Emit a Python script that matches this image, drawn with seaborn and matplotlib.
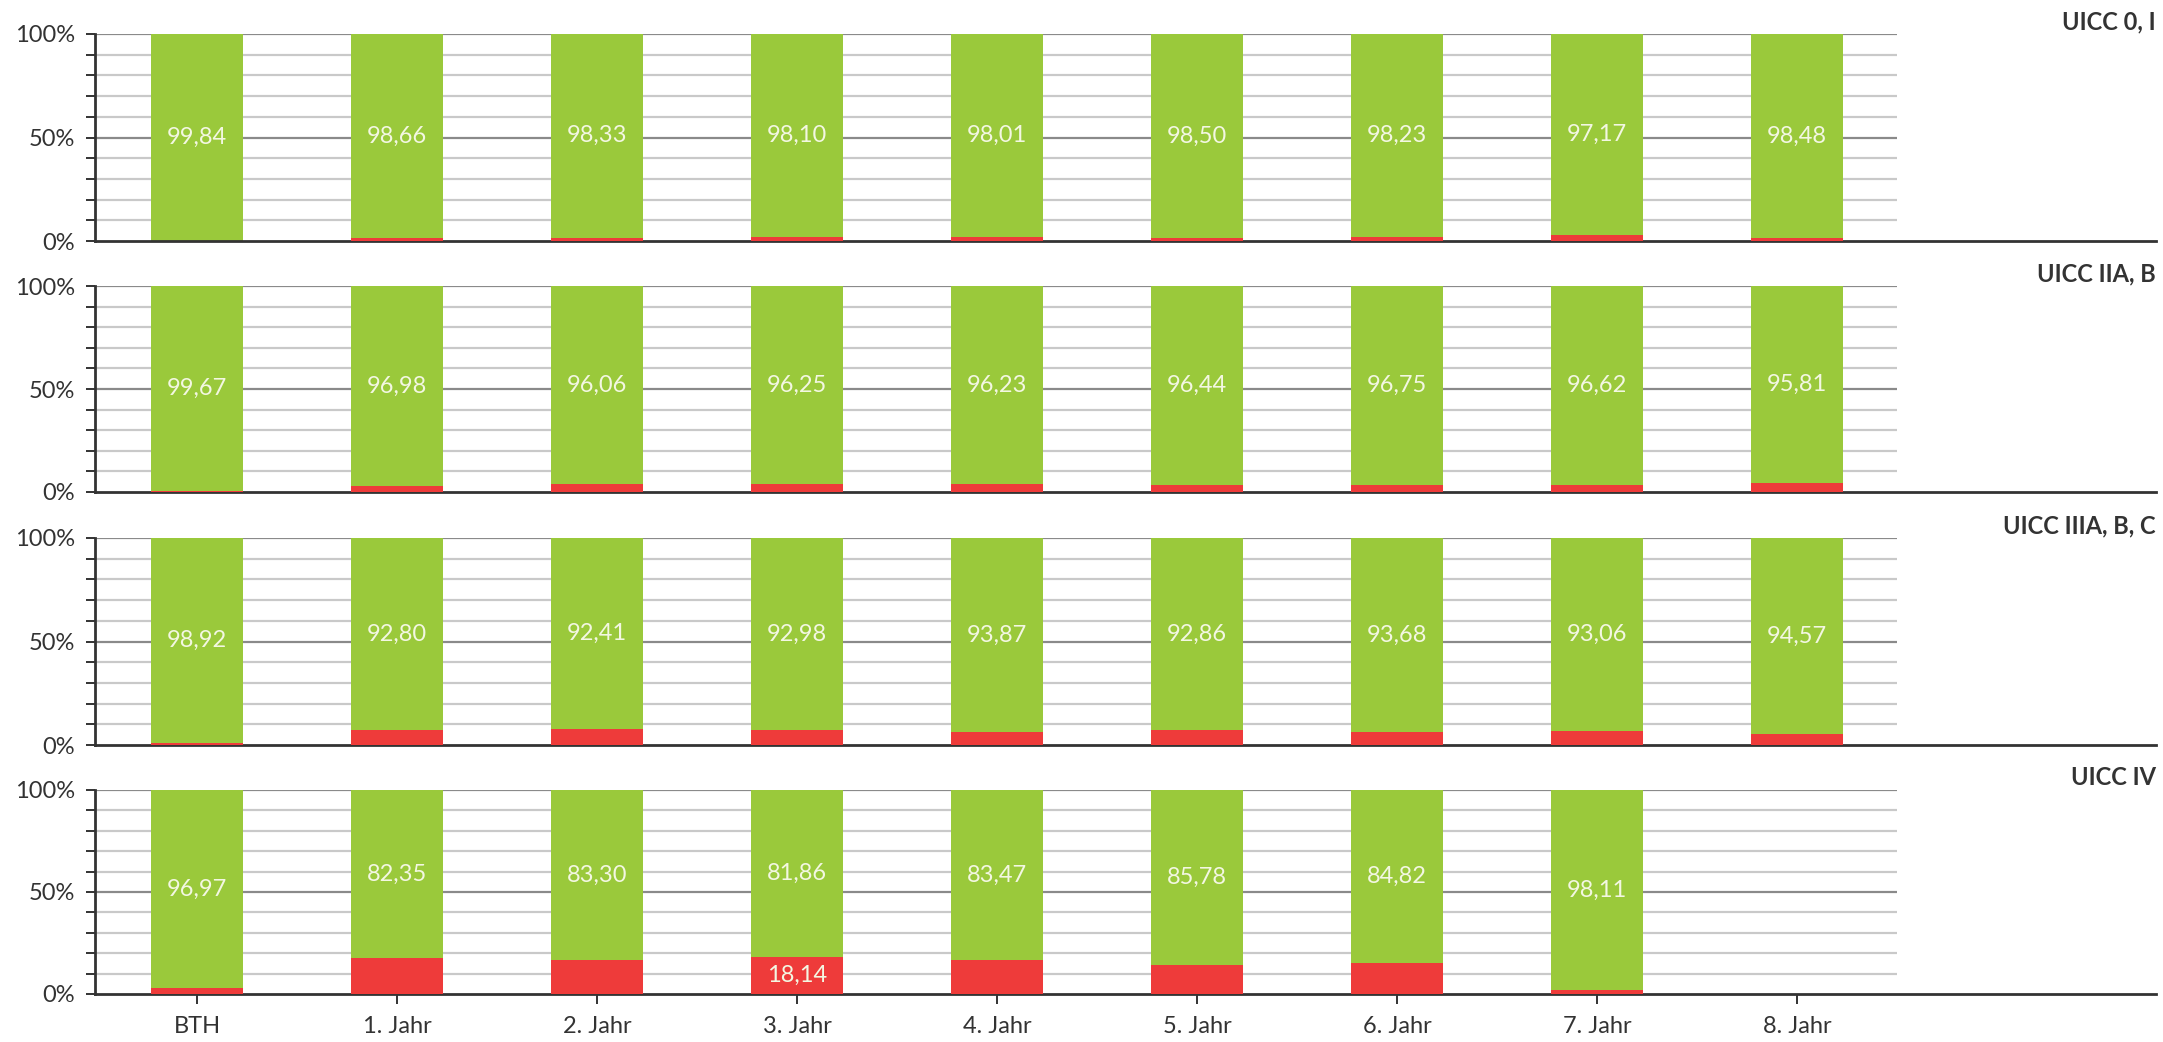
import matplotlib
matplotlib.use("Agg")
import matplotlib.pyplot as plt
import seaborn as sns
import numpy as np
import pandas as pd

categories = ["BTH", "1. Jahr", "2. Jahr", "3. Jahr", "4. Jahr", "5. Jahr", "6. Jahr", "7. Jahr", "8. Jahr"]
panel_titles = ["UICC 0, I", "UICC IIA, B", "UICC IIIA, B, C", "UICC IV"]

green_0_I = [99.84, 98.66, 98.33, 98.10, 98.01, 98.50, 98.23, 97.17, 98.48]
red_0_I = [0.16, 1.34, 1.67, 1.90, 1.99, 1.50, 1.77, 2.83, 1.52]

green_II = [99.67, 96.98, 96.06, 96.25, 96.23, 96.44, 96.75, 96.62, 95.81]
red_II = [0.33, 3.02, 3.94, 3.75, 3.77, 3.56, 3.25, 3.38, 4.19]

green_III = [98.92, 92.80, 92.41, 92.98, 93.87, 92.86, 93.68, 93.06, 94.57]
red_III = [1.08, 7.20, 7.59, 7.02, 6.13, 7.14, 6.32, 6.94, 5.43]

green_IV = [96.97, 82.35, 83.30, 81.86, 83.47, 85.78, 84.82, 98.11, np.nan]
red_IV = [3.03, 17.65, 16.70, 18.14, 16.53, 14.22, 15.18, 1.89, np.nan]

# which red segments carry a value label (panel index, category index)
red_labels_shown = [(3, 3)]

yticks_major = [0, 50, 100]
yticks_minor = [10, 20, 30, 40, 60, 70, 80, 90]
ytick_labels = ["0%", "50%", "100%"]

greens = [green_0_I, green_II, green_III, green_IV]
reds = [red_0_I, red_II, red_III, red_IV]

GREEN = "#9AC93B"
RED = "#EE3B3A"
TEXT_IN_BAR = "#F3F7E2"
DARK = "#333333"

sns.set_theme(style="white")
plt.rcParams["font.family"] = ["Lato", "DejaVu Sans"]

W, H = 2163, 1042
fig = plt.figure(figsize=(W / 100, H / 100), dpi=100)

tops = [34, 286, 538, 790]
bottoms = [241, 492, 745, 994]
left_px, right_px = 95, 2156

def fmt(v):
    return f"{v:.2f}".replace(".", ",")

for p in range(4):
    ax = fig.add_axes([left_px / W, 1 - bottoms[p] / H, (right_px - left_px) / W, (bottoms[p] - tops[p]) / H])
    df = pd.DataFrame({"cat": categories, "green": greens[p], "red": reds[p]})
    df["total"] = df["green"] + df["red"]
    sns.barplot(data=df, x="cat", y="total", order=categories, color=GREEN, saturation=1,
                width=0.46, linewidth=0, errorbar=None, ax=ax, zorder=2)
    sns.barplot(data=df, x="cat", y="red", order=categories, color=RED, saturation=1,
                width=0.46, linewidth=0, errorbar=None, ax=ax, zorder=3)

    ax.set_xlim(-0.51, 9.795)
    ax.set_ylim(0, 100)

    # gridlines (only across the category range)
    ax.hlines(yticks_minor, -0.51, 8.5, colors="#c9c9c9", linewidth=1.6, zorder=0.5)
    ax.hlines([50, 100], -0.51, 8.5, colors="#8a8a8a", linewidth=1.6, zorder=0.5)

    ax.set_yticks(yticks_major)
    ax.set_yticklabels(ytick_labels)
    ax.set_yticks(yticks_minor, minor=True)
    ax.tick_params(axis="y", which="both", direction="out", length=6.5, width=1.4,
                   color=DARK, left=True, pad=8, labelsize=17, labelcolor=DARK)

    for s in ["top", "right"]:
        ax.spines[s].set_visible(False)
    for s in ["left", "bottom"]:
        ax.spines[s].set_color(DARK)
        ax.spines[s].set_linewidth(2)
    ax.set_xlabel("")
    ax.set_ylabel("")

    if p == 3:
        ax.tick_params(axis="x", which="major", direction="out", length=7.5, width=1.4,
                       color=DARK, bottom=True, pad=8, labelsize=17, labelcolor=DARK)
    else:
        ax.tick_params(axis="x", bottom=False, labelbottom=False)

    for i, (g, r) in enumerate(zip(greens[p], reds[p])):
        if np.isnan(g):
            continue
        ax.text(i, r + g / 2, fmt(g), ha="center", va="center", fontsize=17,
                color=TEXT_IN_BAR, zorder=5)
        if (p, i) in red_labels_shown:
            ax.text(i, r / 2, fmt(r), ha="center", va="center", fontsize=17,
                    color=TEXT_IN_BAR, zorder=5)

    ax.text(1.0, 1.06, panel_titles[p], transform=ax.transAxes, ha="right", va="center",
            fontsize=17, fontweight="bold", color=DARK)

fig.savefig("out.png", dpi=100)
